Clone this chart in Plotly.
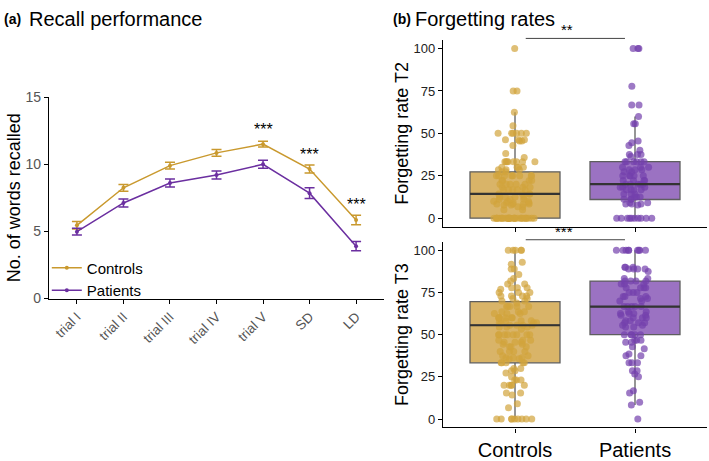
import plotly.graph_objects as go

# ---------------- data ----------------
trials = ["trial I", "trial II", "trial III", "trial IV", "trial V", "SD", "LD"]
controls_mean = [5.45, 8.25, 9.9, 10.85, 11.5, 9.65, 5.85]
controls_se = [0.28, 0.25, 0.25, 0.25, 0.22, 0.3, 0.35]
patients_mean = [4.98, 7.12, 8.6, 9.2, 10.0, 7.85, 3.9]
patients_se = [0.25, 0.3, 0.3, 0.3, 0.3, 0.4, 0.35]
star_trials = ["trial V", "SD", "LD"]
star_y = [12.6, 10.7, 7.0]

groups = ["Controls", "Patients"]
# box statistics: [Controls, Patients]
t2_q1 = [0, 11.0]
t2_median = [14.3, 20.0]
t2_q3 = [27.3, 33.3]
t2_lower = [0, 0]
t2_upper = [62.5, 60.0]
t3_q1 = [33.3, 50.0]
t3_median = [55.6, 66.7]
t3_q3 = [69.6, 81.8]
t3_lower = [0, 8.3]
t3_upper = [100, 100]

t2_controls = ([100, 75, 75, 62.5, 54.5] + [50] * 6 + [46.2] * 3 + [45.5] * 2 + [42.9, 38.1, 35.7]
               + [33.3] * 8 + [30] * 4 + [28.6] * 3 + [27.3] * 2 + [25] * 8 + [22.2] * 4 + [20] * 5
               + [18.2] * 3 + [16.7] * 5 + [14.3] * 4 + [12.5] * 4 + [11.1] * 3 + [10] * 3 + [9.1] * 3
               + [8.3] * 4 + [7.7] * 2 + [6.7] * 2 + [5] * 2 + [0] * 30)
t2_patients = ([100] * 3 + [77.8] + [66.7] * 2 + [60, 55.6, 55.6, 45.5, 44.4, 42.9, 40] + [37.5] * 3
               + [36.4] + [33.3] * 6 + [30] * 3 + [28.6] * 3 + [27.3] * 2 + [25] * 5 + [22.2] * 4
               + [20] * 5 + [18.2] * 3 + [16.7] * 4 + [14.3] * 3 + [12.5] * 3 + [11.1] * 3 + [9.1] * 2
               + [8.3] * 3 + [7.7] + [0] * 10)
t3_controls = ([100] * 5 + [92.9, 91.7, 88.9, 88.9, 85.7, 83.3, 81.8, 80, 80] + [77.8] * 3 + [76.9]
               + [75] * 3 + [73] * 4 + [71.4] * 2 + [70] * 2 + [68.8] + [66.7] * 5 + [63.6] * 3
               + [62.5] * 3 + [60] * 6 + [58.3] * 3 + [57.1] * 4 + [55.6] * 4 + [54.5] * 3 + [53.3]
               + [50] * 8 + [46.7] * 3 + [45.5] * 3 + [44.4] * 2 + [42.9] * 3 + [40] * 4 + [37.5] * 2
               + [36.4] * 3 + [35.7] * 2 + [33.3] * 5 + [30] * 2 + [28.6] * 2 + [27.3, 25] + [23.1] * 3
               + [20] * 5 + [15.4] * 2 + [14.3, 9.1, 6.7] + [0] * 9)
t3_patients = ([100] * 9 + [90] * 3 + [88.9] * 4 + [87.5] + [83.3] * 2 + [81.8] * 4 + [80] * 3
               + [77.8] * 4 + [75] * 3 + [72.7] * 3 + [71.4] * 2 + [70] * 2 + [66.7] * 5 + [63.6] * 2
               + [62.5] * 3 + [61.5] * 2 + [60] * 3 + [58.3] * 2 + [57.1] * 3 + [55.6] * 2 + [54.5] * 2
               + [50] * 5 + [46.7] * 3 + [45.5] * 2 + [42.9, 41.7, 38.5, 37.5, 37.5] + [33.3] * 3
               + [28.6] * 2 + [26.7, 25, 16.7, 15.4, 10, 8.3, 0])

# ---------------- styles ----------------
GOLD = "#C9992E"
PURPLE = "#6B2FA0"
GOLD_FILL = "#D9B468"
PURPLE_FILL = "#9B72C2"
GOLD_PT = "#D2A43C"
PURPLE_PT = "#7440AC"
FONT = "Liberation Sans, Arial, sans-serif"

fig = go.Figure()

# ---------------- panel (a) ----------------
fig.add_trace(go.Scatter(
    x=trials, y=controls_mean, mode="lines+markers", name="Controls",
    line=dict(color=GOLD, width=1.5), marker=dict(color=GOLD, size=4),
    error_y=dict(type="data", array=controls_se, color=GOLD, thickness=1.5, width=5),
    xaxis="x", yaxis="y"))
fig.add_trace(go.Scatter(
    x=trials, y=patients_mean, mode="lines+markers", name="Patients",
    line=dict(color=PURPLE, width=1.5), marker=dict(color=PURPLE, size=4),
    error_y=dict(type="data", array=patients_se, color=PURPLE, thickness=1.5, width=5),
    xaxis="x", yaxis="y"))
for t, yv in zip(star_trials, star_y):
    fig.add_annotation(x=t, y=yv, xref="x", yref="y", text="***", showarrow=False,
                       font=dict(size=16, color="black", family=FONT))

# ---------------- panel (b) ----------------
def add_boxes(xa, ya, q1, med, q3, lo, hi, pts_c, pts_p):
    for i, (g, fill, ptc, pts) in enumerate(zip(groups, [GOLD_FILL, PURPLE_FILL],
                                                 [GOLD_PT, PURPLE_PT], [pts_c, pts_p])):
        fig.add_trace(go.Box(
            x=[g], q1=[q1[i]], median=[med[i]], q3=[q3[i]],
            lowerfence=[lo[i]], upperfence=[hi[i]],
            fillcolor=fill, line=dict(color="#5e5e5e", width=1.3), width=0.75,
            whiskerwidth=0,
            boxpoints=False, showlegend=False, hoverinfo="skip",
            xaxis=xa, yaxis=ya))
        fig.add_trace(go.Box(
            x=[g] * len(pts), y=pts, boxpoints="all", jitter=0.48, pointpos=0,
            fillcolor="rgba(0,0,0,0)", line=dict(width=0, color="rgba(0,0,0,0)"), width=0.75,
            whiskerwidth=0,
            marker=dict(color=ptc, size=7, opacity=0.7, line=dict(width=0)),
            showlegend=False, hoverinfo="skip", xaxis=xa, yaxis=ya))
        fig.add_shape(type="line", xref=xa, yref=ya, x0=i - 0.375, x1=i + 0.375,
                      y0=med[i], y1=med[i], line=dict(color="#333333", width=2.2))

add_boxes("x2", "y2", t2_q1, t2_median, t2_q3, t2_lower, t2_upper, t2_controls, t2_patients)
add_boxes("x3", "y3", t3_q1, t3_median, t3_q3, t3_lower, t3_upper, t3_controls, t3_patients)

# significance brackets
for yl, txt in [(0.9312, "**"), (0.4757, "***")]:
    fig.add_shape(type="line", xref="paper", yref="paper", x0=0.7415, x1=0.8815,
                  y0=yl, y1=yl, line=dict(color="#444444", width=1))
    fig.add_annotation(xref="paper", yref="paper", x=0.8115, y=yl - 0.004, text=txt,
                       showarrow=False, yanchor="bottom",
                       font=dict(size=15, color="black", family=FONT))

# titles
fig.add_annotation(xref="paper", yref="paper", x=0.003, y=1 - 11 / 461, text="<b>(a)</b>",
                   showarrow=False, xanchor="left", yanchor="middle",
                   font=dict(size=14, color="black", family=FONT))
fig.add_annotation(xref="paper", yref="paper", x=27 / 709, y=1 - 11 / 461, text="Recall performance",
                   showarrow=False, xanchor="left", yanchor="middle",
                   font=dict(size=20, color="black", family=FONT))
fig.add_annotation(xref="paper", yref="paper", x=391 / 709, y=1 - 11 / 461, text="<b>(b)</b>",
                   showarrow=False, xanchor="left", yanchor="middle",
                   font=dict(size=14, color="black", family=FONT))
fig.add_annotation(xref="paper", yref="paper", x=413 / 709, y=1 - 11 / 461, text="Forgetting rates",
                   showarrow=False, xanchor="left", yanchor="middle",
                   font=dict(size=20, color="black", family=FONT))

axis_common = dict(showline=True, linecolor="black", linewidth=1.2, ticks="outside",
                   ticklen=4, tickcolor="black", showgrid=False, zeroline=False)

fig.update_layout(
    width=709, height=461, margin=dict(l=0, r=0, t=0, b=0),
    paper_bgcolor="white", plot_bgcolor="white", boxmode="overlay",
    font=dict(family=FONT, color="black"),
    showlegend=True,
    legend=dict(x=0.066, y=1 - 254 / 461, xanchor="left", yanchor="top",
                font=dict(size=15, color="black", family=FONT), bgcolor="rgba(0,0,0,0)",
                tracegroupgap=0, itemwidth=30),
    xaxis=dict(domain=[49 / 709, 384 / 709], anchor="y", type="category",
               range=[-0.6, 6.6], tickangle=-45,
               tickfont=dict(size=13.5, color="#555555"), **axis_common),
    yaxis=dict(domain=[1 - 303 / 461, 1 - 93 / 461], anchor="x", range=[0, 15],
               tickvals=[0, 5, 10, 15], tickfont=dict(size=14, color="#555555"),
               title=dict(text="No. of words recalled", font=dict(size=18, color="black"), standoff=0),
               **axis_common),
    xaxis2=dict(domain=[443 / 709, 707 / 709], anchor="y2", type="category",
                categoryorder="array", categoryarray=groups,
                range=[-0.6, 1.6], showticklabels=False, **axis_common),
    yaxis2=dict(domain=[1 - 228 / 461, 1 - 33.5 / 461], anchor="x2", range=[-5, 105],
                tickvals=[0, 25, 50, 75, 100], tickfont=dict(size=13, color="#222222"),
                title=dict(text="Forgetting rate T2", font=dict(size=18, color="black"), standoff=0),
                **axis_common),
    xaxis3=dict(domain=[443 / 709, 707 / 709], anchor="y3", type="category",
                categoryorder="array", categoryarray=groups,
                range=[-0.6, 1.6], tickfont=dict(size=20, color="black"), **axis_common),
    yaxis3=dict(domain=[1 - 437.5 / 461, 1 - 244 / 461], anchor="x3", range=[-5, 105],
                tickvals=[0, 25, 50, 75, 100], tickfont=dict(size=13, color="#222222"),
                title=dict(text="Forgetting rate T3", font=dict(size=18, color="black"), standoff=0),
                **axis_common),
)

fig.write_html("out.html")
